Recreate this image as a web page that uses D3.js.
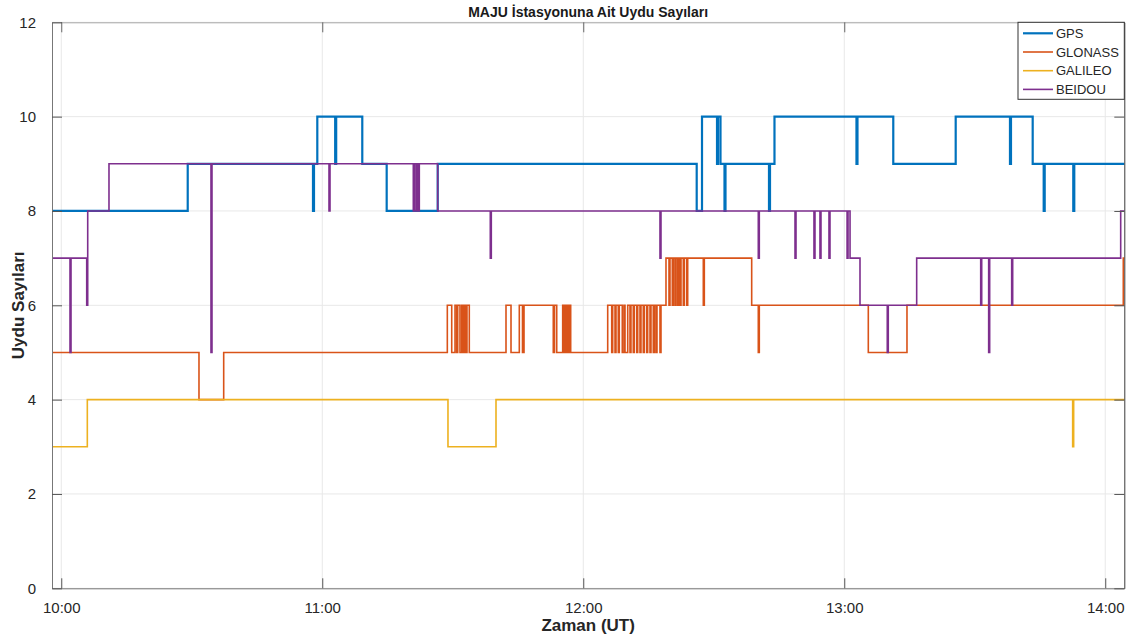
<!DOCTYPE html>
<html>
<head>
<meta charset="utf-8">
<script src="https://cdn.jsdelivr.net/npm/d3@7"></script>
<style>
  body { margin: 0; background: #fff; }
  text { font-family: "Liberation Sans", Arial, sans-serif; }
</style>
</head>
<body>
<script>
const width = 1143
const height = 643

// time = minutes after 10:00 UT, value = number of satellites (change points of a step series)
const tStart = -2.13
const tEnd = 244.38

const gps = [
  [tStart, 8], [29.07, 9], [57.87, 8], [58.10, 9], [58.86, 10], [62.97, 9], [63.20, 10],
  [69.20, 9], [74.81, 8], [86.54, 9], [146.08, 8], [147.30, 10], [150.75, 9], [150.98, 10],
  [151.55, 9], [152.47, 8], [152.70, 9], [162.70, 8], [162.93, 9], [163.96, 10],
  [182.81, 9], [183.04, 10], [191.27, 9], [205.62, 10], [218.10, 9], [218.33, 10],
  [223.32, 9], [225.85, 8], [226.08, 9], [232.65, 8], [232.88, 9]
]

const glonass = [
  [tStart, 5], [31.66, 4], [37.34, 5],
  [88.75, 6], [89.76, 5], [90.52, 6], [90.91, 5], [91.14, 6], [91.66, 5], [92.06, 6], [92.24, 5],
  [92.42, 6], [92.63, 5], [92.81, 6], [93.04, 5], [93.27, 6], [93.80, 5],
  [102.24, 6], [103.39, 5], [105.30, 6], [106.03, 5], [106.38, 6],
  [113.11, 5], [113.39, 6], [113.90, 5], [115.27, 6], [115.46, 5], [115.64, 6], [115.85, 5],
  [116.03, 6], [116.26, 5], [116.45, 6], [116.65, 5], [116.84, 6], [117.11, 5],
  [125.62, 6], [126.54, 5], [126.77, 6], [127.30, 5], [127.53, 6], [128.05, 5], [128.28, 6],
  [128.97, 5], [129.36, 6], [129.60, 5], [130.22, 6], [130.74, 5], [130.97, 6],
  [131.50, 5], [131.73, 6], [132.29, 5], [132.52, 6], [133.04, 5], [133.27, 6],
  [133.80, 5], [134.03, 6], [134.58, 5], [134.81, 6], [135.34, 5], [135.57, 6],
  [136.10, 5], [136.33, 6], [136.72, 5], [136.95, 6], [137.64, 5], [137.87, 6],
  [139.02, 7], [139.71, 6], [139.94, 7], [140.47, 6], [140.70, 7], [141.09, 6], [141.32, 7],
  [141.71, 6], [142.01, 7], [142.24, 6], [142.47, 7], [143.00, 6], [143.23, 7],
  [143.78, 6], [144.01, 7], [147.60, 6], [147.83, 7],
  [158.72, 6], [160.24, 5], [160.47, 6], [185.53, 5], [194.42, 6], [244.15, 7]
]

const galileo = [
  [tStart, 3], [5.99, 4], [88.90, 3], [99.94, 4], [232.51, 3], [232.74, 4]
]

const beidou = [
  [tStart, 7], [2.01, 5], [2.24, 7], [5.85, 6], [6.08, 8], [10.97, 9],
  [34.42, 5], [34.65, 9], [61.55, 8], [61.78, 9],
  [80.93, 8], [81.16, 9], [81.55, 8], [81.78, 9], [82.01, 8], [82.31, 9], [86.54, 8],
  [98.63, 7], [98.86, 8], [137.64, 7], [137.87, 8], [160.24, 7], [160.47, 8],
  [168.68, 7], [168.91, 8], [173.04, 7], [173.27, 8], [174.42, 7], [174.65, 8],
  [176.49, 7], [176.72, 8], [180.65, 7], [180.87, 8], [181.33, 7], [183.62, 6],
  [189.89, 5], [190.12, 6], [196.65, 7], [211.37, 6], [211.60, 7],
  [213.20, 5], [213.43, 7], [218.49, 6], [218.72, 7], [243.55, 8]
]

const seriesNames = ["GPS", "GLONASS", "GALILEO", "BEIDOU"]
const seriesData = [gps, glonass, galileo, beidou]
const seriesColors = ["#0072BD", "#D95319", "#EDB120", "#7E2F8E"]
const seriesWidths = [2.2, 1.6, 1.6, 1.6]

const xTicks = [0, 60, 120, 180, 240]
const xTickLabels = ["10:00", "11:00", "12:00", "13:00", "14:00"]
const yTicks = [0, 2, 4, 6, 8, 10, 12]

const plotLeft = 52, plotRight = 1124.3, plotTop = 22.3, plotBottom = 588.3

const svg = d3.select("body").append("svg")
  .attr("width", width)
  .attr("height", height)

const x = d3.scaleLinear().domain([tStart, tEnd]).range([plotLeft, plotRight])
const y = d3.scaleLinear().domain([0, 12]).range([plotBottom, plotTop])

// grid
svg.append("g")
  .selectAll("line")
  .data(xTicks)
  .enter()
  .append("line")
  .attr("x1", d => x(d)).attr("x2", d => x(d))
  .attr("y1", plotTop).attr("y2", plotBottom)
  .attr("stroke", "#e8e8e8")
  .attr("stroke-width", 1)

svg.append("g")
  .selectAll("line")
  .data(yTicks)
  .enter()
  .append("line")
  .attr("x1", plotLeft).attr("x2", plotRight)
  .attr("y1", d => y(d)).attr("y2", d => y(d))
  .attr("stroke", "#e8e8e8")
  .attr("stroke-width", 1)

// step lines
const line = d3.line()
  .curve(d3.curveStepAfter)
  .x(d => x(d[0]))
  .y(d => y(d[1]))

seriesData.forEach((s, i) => {
  const pts = s.concat([[tEnd, s[s.length - 1][1]]])
  svg.append("path")
    .attr("d", line(pts))
    .attr("fill", "none")
    .attr("stroke", seriesColors[i])
    .attr("stroke-width", seriesWidths[i])
})

// axes (matlab box with inward ticks)
const axisColor = "#262626"
const xAxis = svg.append("g")
  .attr("transform", `translate(0,${plotBottom})`)
  .call(d3.axisBottom(x).tickValues(xTicks).tickFormat((d, i) => xTickLabels[i]).tickSizeInner(-10).tickSizeOuter(0).tickPadding(14))
xAxis.select(".domain").attr("stroke", "#777")
xAxis.selectAll(".tick line").attr("stroke", "#555")
xAxis.selectAll("text").attr("font-size", 15).attr("fill", axisColor).attr("font-family", "Liberation Sans, Arial, sans-serif")

const xAxisTop = svg.append("g")
  .attr("transform", `translate(0,${plotTop})`)
  .call(d3.axisTop(x).tickValues(xTicks).tickFormat("").tickSizeInner(-10).tickSizeOuter(0))
xAxisTop.select(".domain").attr("stroke", "#a8a8a8")
xAxisTop.selectAll(".tick line").attr("stroke", "#666")

const yAxis = svg.append("g")
  .attr("transform", `translate(${plotLeft},0)`)
  .call(d3.axisLeft(y).tickValues(yTicks).tickSizeInner(-10).tickSizeOuter(0).tickPadding(16))
yAxis.select(".domain").attr("stroke", "#777")
yAxis.selectAll(".tick line").attr("stroke", "#555")
yAxis.selectAll("text").attr("font-size", 15).attr("fill", axisColor).attr("font-family", "Liberation Sans, Arial, sans-serif")

const yAxisRight = svg.append("g")
  .attr("transform", `translate(${plotRight},0)`)
  .call(d3.axisRight(y).tickValues(yTicks).tickFormat("").tickSizeInner(-10).tickSizeOuter(0))
yAxisRight.select(".domain").attr("stroke", "#3a3a3a")
yAxisRight.selectAll(".tick line").attr("stroke", "#555")

// titles
svg.append("text")
  .attr("x", (plotLeft + plotRight) / 2)
  .attr("y", 17)
  .attr("text-anchor", "middle")
  .attr("font-weight", "bold")
  .attr("font-size", 14)
  .attr("fill", "#1a1a1a")
  .text("MAJU İstasyonuna Ait Uydu Sayıları")

svg.append("text")
  .attr("x", (plotLeft + plotRight) / 2)
  .attr("y", 631)
  .attr("text-anchor", "middle")
  .attr("font-weight", "bold")
  .attr("font-size", 17)
  .attr("fill", "#262626")
  .text("Zaman (UT)")

svg.append("text")
  .attr("transform", `translate(24,${(plotTop + plotBottom) / 2}) rotate(-90)`)
  .attr("text-anchor", "middle")
  .attr("font-weight", "bold")
  .attr("font-size", 17)
  .attr("fill", "#262626")
  .text("Uydu Sayıları")

// legend
const legend = svg.append("g").attr("transform", `translate(1018,${plotTop})`)
legend.append("rect")
  .attr("width", plotRight - 1018)
  .attr("height", 77)
  .attr("fill", "#fff")
  .attr("stroke", "#333")
  .attr("stroke-width", 1)

const items = legend.selectAll("g.item")
  .data(seriesNames)
  .enter()
  .append("g")
  .attr("class", "item")
  .attr("transform", (d, i) => `translate(0,${11 + i * 18.7})`)

items.append("line")
  .attr("x1", 5).attr("x2", 35)
  .attr("stroke", (d, i) => seriesColors[i])
  .attr("stroke-width", (d, i) => seriesWidths[i])

items.append("text")
  .attr("x", 38)
  .attr("y", 4.5)
  .attr("font-size", 13)
  .attr("fill", "#262626")
  .text(d => d)
</script>
</body>
</html>
